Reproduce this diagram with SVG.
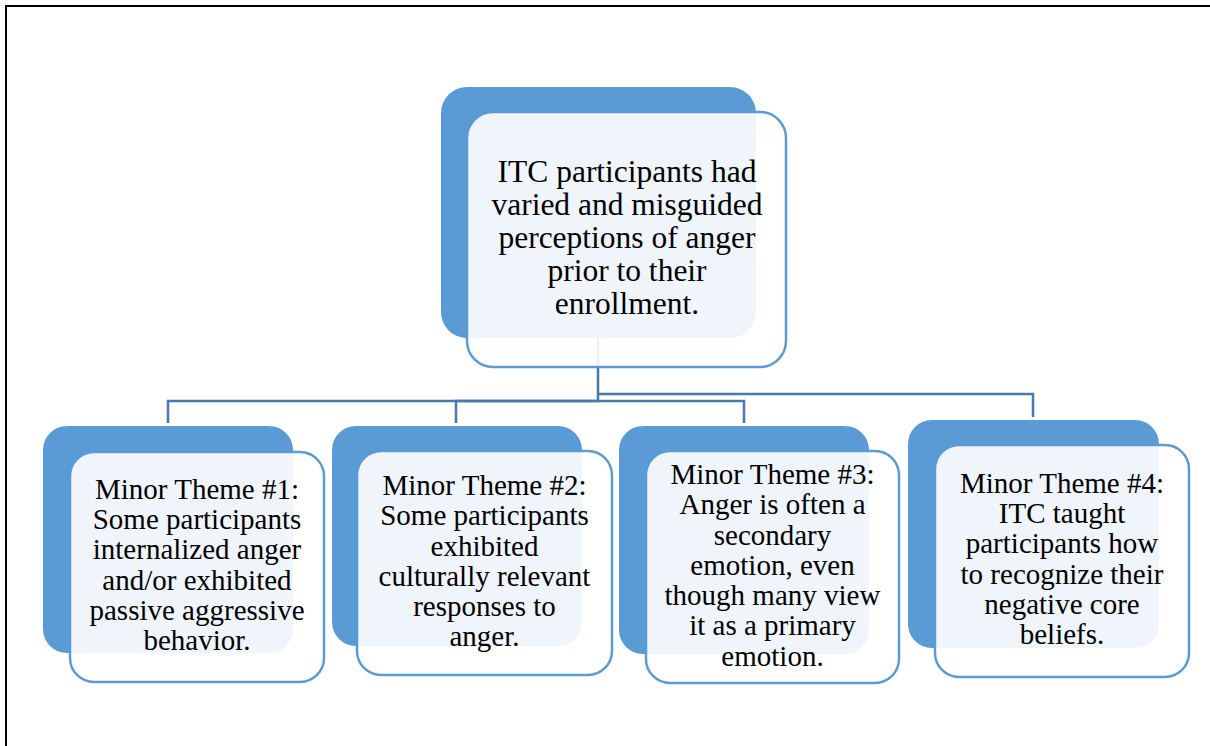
<svg xmlns="http://www.w3.org/2000/svg" width="1210" height="746" viewBox="0 0 1210 746">
<style>
.back{fill:#5b9bd5;}
.front{fill:#ffffff;fill-opacity:0.9;stroke:#5b9bd5;stroke-width:2.5;}
.conn{fill:none;stroke:#4a7aab;stroke-width:2.5;}
.t{font-family:"Liberation Serif","Times New Roman",serif;fill:#000;text-anchor:middle;}
.tt{font-size:31.5px;}
.bt{font-size:29px;}
.frame{fill:none;stroke:#000;stroke-width:2;}
</style>
<rect width="1210" height="746" fill="#ffffff"/>
<path class="frame" d="M6 746 V6 H1210"/>
<g id="connectors">
<path class="conn" d="M598 338 V401 H168 V423"/>
<path class="conn" d="M598 401 H456 V423"/>
<path class="conn" d="M598 401 H744 V423"/>
<path class="conn" d="M598 394 H1033 V417"/>
</g>
<g id="main-theme">
<rect class="back" x="441" y="87" width="315" height="251" rx="26"/>
<rect class="front" x="467" y="112" width="319" height="255" rx="26"/>
<text class="t tt" x="627"><tspan x="627" y="182">ITC participants had</tspan><tspan x="627" y="215">varied and misguided</tspan><tspan x="627" y="248">perceptions of anger</tspan><tspan x="627" y="281">prior to their</tspan><tspan x="627" y="314">enrollment.</tspan></text>
</g>
<g id="minor-theme-1">
<rect class="back" x="43" y="426" width="250" height="227" rx="24"/>
<rect class="front" x="70" y="452" width="254" height="230" rx="24"/>
<text class="t bt"><tspan x="197" y="499">Minor Theme #1:</tspan><tspan x="197" y="529">Some participants</tspan><tspan x="197" y="559">internalized anger</tspan><tspan x="197" y="590">and/or exhibited</tspan><tspan x="197" y="620">passive aggressive</tspan><tspan x="197" y="650">behavior.</tspan></text>
</g>
<g id="minor-theme-2">
<rect class="back" x="332" y="426" width="250" height="220" rx="24"/>
<rect class="front" x="357" y="451" width="255" height="224" rx="24"/>
<text class="t bt"><tspan x="484.5" y="495">Minor Theme #2:</tspan><tspan x="484.5" y="525">Some participants</tspan><tspan x="484.5" y="556">exhibited</tspan><tspan x="484.5" y="586">culturally relevant</tspan><tspan x="484.5" y="616">responses to</tspan><tspan x="484.5" y="646">anger.</tspan></text>
</g>
<g id="minor-theme-3">
<rect class="back" x="619" y="426" width="250" height="228" rx="24"/>
<rect class="front" x="646" y="451" width="253" height="232" rx="24"/>
<text class="t bt"><tspan x="772.5" y="484">Minor Theme #3:</tspan><tspan x="772.5" y="514">Anger is often a</tspan><tspan x="772.5" y="545">secondary</tspan><tspan x="772.5" y="575">emotion, even</tspan><tspan x="772.5" y="605">though many view</tspan><tspan x="772.5" y="635">it as a primary</tspan><tspan x="772.5" y="666">emotion.</tspan></text>
</g>
<g id="minor-theme-4">
<rect class="back" x="908" y="420" width="251" height="228" rx="24"/>
<rect class="front" x="935" y="445" width="254" height="232" rx="24"/>
<text class="t bt"><tspan x="1062" y="493">Minor Theme #4:</tspan><tspan x="1062" y="523">ITC taught</tspan><tspan x="1062" y="553">participants how</tspan><tspan x="1062" y="584">to recognize their</tspan><tspan x="1062" y="614">negative core</tspan><tspan x="1062" y="644">beliefs.</tspan></text>
</g>
</svg>
